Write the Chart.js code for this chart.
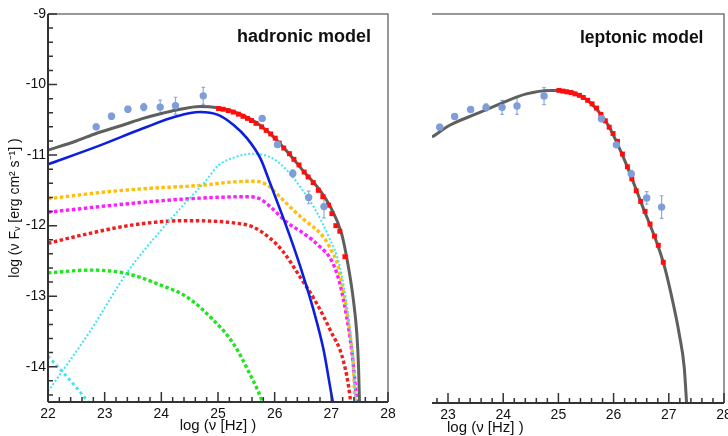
<!DOCTYPE html>
<html>
<head>
<meta charset="utf-8">
<script src="https://cdn.jsdelivr.net/npm/chart.js@4.4.1/dist/chart.umd.min.js"></script>
<style>
  html, body { margin: 0; padding: 0; background: #fff; width: 728px; height: 436px; overflow: hidden; }
  #hadronic { position: absolute; left: 0; top: 0; }
  #leptonic { position: absolute; left: 400px; top: 0; }
</style>
</head>
<body>
<canvas id="hadronic" width="400" height="436"></canvas>
<canvas id="leptonic" width="328" height="436"></canvas>
<script>
// observed fluxes (log nu [Hz], log nuFnu [erg cm^-2 s^-1]), same in both panels
const obsX   = [22.85, 23.12, 23.41, 23.69, 23.98, 24.25, 24.74, 25.78, 26.05, 26.32, 26.60, 26.87];
const obsY   = [-10.60, -10.45, -10.35, -10.32, -10.32, -10.30, -10.16, -10.48, -10.85, -11.26, -11.60, -11.73];
const obsErr = [0.04, 0.04, 0.04, 0.05, 0.10, 0.12, 0.12, 0.03, 0.03, 0.05, 0.09, 0.16];

// simulated spectrum, hadronic panel
const simHadX = [25.01, 25.09, 25.18, 25.27, 25.36, 25.44, 25.52, 25.59, 25.67, 25.77, 25.85, 25.93, 26.01, 26.08,
                 26.16, 26.26, 26.34, 26.43, 26.52, 26.59, 26.68, 26.77, 26.85, 26.95, 27.01, 27.08, 27.15, 27.24];
const simHadY = [-10.34, -10.35, -10.37, -10.39, -10.42, -10.45, -10.48, -10.51, -10.55, -10.60, -10.65, -10.70, -10.76, -10.83,
                 -10.90, -10.98, -11.06, -11.14, -11.24, -11.31, -11.39, -11.50, -11.59, -11.71, -11.83, -12.00, -12.08, -12.44];

// simulated spectrum, leptonic panel
const simLepX = [25.01, 25.08, 25.15, 25.23, 25.30, 25.38, 25.45, 25.53, 25.61, 25.69, 25.77, 25.85, 25.92,
                 25.99, 26.07, 26.16, 26.25, 26.33, 26.41, 26.49, 26.57, 26.66, 26.74, 26.81, 26.90];
const simLepY = [-10.08, -10.09, -10.10, -10.11, -10.13, -10.15, -10.18, -10.22, -10.27, -10.33, -10.42, -10.51, -10.60,
                 -10.69, -10.80, -10.98, -11.16, -11.33, -11.50, -11.65, -11.79, -11.97, -12.14, -12.27, -12.51];

// hadronic model components
const totHadX = [22.0, 22.5, 22.86, 23.3, 23.68, 24.0, 24.27, 24.68, 25.0, 25.3, 25.6, 25.9, 26.2, 26.5, 26.8, 27.0, 27.18, 27.3, 27.39, 27.45, 27.48, 27.5];
const totHadY = [-10.93, -10.80, -10.69, -10.58, -10.48, -10.41, -10.36, -10.31, -10.33, -10.39, -10.50, -10.68, -10.93, -11.22, -11.50, -11.76, -12.11, -12.58, -13.06, -13.53, -14.0, -14.6];
const synX = [22.0, 22.86, 23.68, 24.27, 24.68, 25.0, 25.27, 25.51, 25.75, 25.92, 26.1, 26.3, 26.5, 26.68, 26.86, 27.01, 27.05];
const synY = [-11.13, -10.88, -10.62, -10.45, -10.39, -10.43, -10.57, -10.76, -11.05, -11.40, -11.78, -12.22, -12.70, -13.18, -13.75, -14.43, -14.6];
const pionX = [22.0, 22.74, 23.4, 24.0, 24.4, 24.8, 25.0, 25.3, 25.62, 25.97, 26.21, 26.45, 26.7, 26.95, 27.15, 27.3, 27.39, 27.44];
const pionY = [-14.35, -13.50, -12.66, -12.06, -11.70, -11.35, -11.15, -11.03, -10.98, -11.05, -11.21, -11.45, -11.75, -12.15, -12.58, -13.29, -14.0, -14.6];
const pionLowX = [22.0, 22.33, 22.71, 22.8];
const pionLowY = [-13.85, -14.14, -14.50, -14.6];
const muonX = [22.0, 22.92, 23.8, 24.68, 25.27, 25.62, 25.86, 26.09, 26.33, 26.51, 26.86, 27.0, 27.12, 27.24, 27.33, 27.39, 27.42];
const muonY = [-11.62, -11.53, -11.47, -11.43, -11.38, -11.37, -11.42, -11.59, -11.78, -11.91, -12.16, -12.35, -12.58, -13.06, -13.53, -14.0, -14.6];
const cascX = [22.0, 22.92, 23.8, 24.68, 25.51, 25.74, 25.92, 26.21, 26.51, 26.8, 27.0, 27.15, 27.27, 27.36, 27.42, 27.46];
const cascY = [-11.81, -11.73, -11.66, -11.61, -11.59, -11.62, -11.73, -11.95, -12.11, -12.30, -12.49, -12.82, -13.29, -13.77, -14.24, -14.6];
const protX = [22.0, 22.62, 23.5, 24.38, 25.27, 25.62, 25.92, 26.15, 26.45, 26.74, 26.98, 27.21, 27.33, 27.35];
const protY = [-12.25, -12.13, -11.99, -11.93, -11.96, -12.02, -12.18, -12.37, -12.73, -13.10, -13.48, -13.91, -14.43, -14.6];
const pairX = [22.0, 22.74, 23.39, 23.98, 24.45, 24.92, 25.27, 25.56, 25.77, 25.82];
const pairY = [-12.67, -12.63, -12.68, -12.84, -13.01, -13.34, -13.67, -14.10, -14.47, -14.6];

// leptonic model
const totLepX = [22.71, 23.04, 23.52, 23.94, 24.42, 24.84, 25.01, 25.3, 25.6, 25.9, 26.2, 26.5, 26.9, 27.07, 27.19, 27.28, 27.33];
const totLepY = [-10.74, -10.57, -10.41, -10.27, -10.13, -10.08, -10.08, -10.12, -10.27, -10.57, -11.07, -11.67, -12.51, -13.06, -13.53, -14.0, -14.6];

const yTicksMin = -14.5, yTicksMax = -9;

Chart.defaults.font.family = '"Liberation Sans", Arial, Helvetica, sans-serif';
Chart.defaults.font.size = 14;
Chart.defaults.color = '#111';

const pts = (xs, ys) => xs.map((x, i) => ({x, y: ys[i]}));

function curve(xs, ys, color, width, dash) {
  return {
    data: pts(xs, ys), showLine: true, pointRadius: 0, borderColor: color, borderWidth: width,
    borderDash: dash || [], borderCapStyle: 'butt', cubicInterpolationMode: 'monotone', clip: 0
  };
}
const observed = () => ({
  data: pts(obsX, obsY), pointStyle: 'circle', pointRadius: 3.7, backgroundColor: '#7f9dd8', borderWidth: 0
});
const simulated = (xs, ys) => ({
  data: pts(xs, ys), pointStyle: 'rect', pointRadius: 3.5, backgroundColor: '#ff0d0d', borderWidth: 0
});

const panelDecor = {
  id: 'panelDecor',
  beforeDatasetsDraw(chart) {
    const {ctx, scales: {x, y}} = chart;
    ctx.save();
    ctx.strokeStyle = '#8fa9de';
    ctx.lineWidth = 1.2;
    ctx.beginPath();
    obsX.forEach((v, i) => {
      const px = x.getPixelForValue(v);
      const hi = y.getPixelForValue(obsY[i] + obsErr[i]);
      const lo = y.getPixelForValue(obsY[i] - obsErr[i]);
      ctx.moveTo(px, hi); ctx.lineTo(px, lo);
      ctx.moveTo(px - 1.8, hi); ctx.lineTo(px + 1.8, hi);
      ctx.moveTo(px - 1.8, lo); ctx.lineTo(px + 1.8, lo);
    });
    ctx.stroke();
    ctx.restore();
  },
  afterDraw(chart, args, o) {
    const {ctx, chartArea: a, scales: {x, y}} = chart;
    ctx.save();
    ctx.strokeStyle = '#777';
    ctx.lineWidth = 1.5;
    ctx.beginPath();
    ctx.moveTo(a.left, a.top); ctx.lineTo(a.right, a.top); ctx.lineTo(a.right, a.bottom);
    ctx.stroke();

    ctx.strokeStyle = '#333';
    ctx.lineWidth = 2;
    ctx.beginPath();
    ctx.moveTo(a.left, a.bottom); ctx.lineTo(a.right, a.bottom);
    if (o.leftAxis) { ctx.moveTo(a.left, a.bottom); ctx.lineTo(a.left, a.top); }
    ctx.stroke();

    // inward major + minor ticks every 0.2
    ctx.lineWidth = 1.5;
    ctx.beginPath();
    for (let k = Math.ceil(x.min * 5); k <= Math.floor(x.max * 5); k++) {
      const px = x.getPixelForValue(k / 5), len = k % 5 === 0 ? 10 : 5;
      ctx.moveTo(px, a.bottom); ctx.lineTo(px, a.bottom - len);
    }
    if (o.leftAxis) {
      for (let k = Math.ceil(y.min * 5); k <= Math.floor(y.max * 5); k++) {
        const py = y.getPixelForValue(k / 5), len = k % 5 === 0 ? 9 : 5;
        ctx.moveTo(a.left, py); ctx.lineTo(a.left + len, py);
      }
    }
    ctx.stroke();

    ctx.fillStyle = '#111';
    ctx.textBaseline = 'alphabetic';
    ctx.font = 'bold ' + o.labelSize + 'px "Liberation Sans", Arial, sans-serif';
    ctx.fillText(o.label, o.labelX, o.labelY);
    if (o.xTitle) {
      ctx.font = '15px "Liberation Sans", Arial, sans-serif';
      ctx.textBaseline = 'middle';
      ctx.fillText(o.xTitle, o.xTitleX, 428);
    }
    ctx.restore();
  }
};

function xScale(min, height, title) {
  return {
    type: 'linear', min, max: 28,
    grid: {display: false, drawTicks: false}, border: {display: false},
    ticks: {stepSize: 1, includeBounds: false, padding: 4, maxRotation: 0, autoSkip: false},
    title: {display: !!title, text: title, font: {size: 15}, padding: {top: 0, bottom: 1}},
    afterFit(s) { s.height = height; s.paddingLeft = 0; s.paddingRight = 0; }
  };
}

new Chart(document.getElementById('hadronic'), {
  type: 'scatter',
  data: {
    datasets: [
      observed(),
      simulated(simHadX, simHadY),
      curve(totHadX, totHadY, '#5d605d', 3),
      curve(synX, synY, '#0c1ee0', 2.6),
      curve(pionX, pionY, '#3fe6f0', 2, [2, 2]),
      curve(pionLowX, pionLowY, '#3fe6f0', 3, [3, 3]),
      curve(muonX, muonY, '#ffbe0a', 3.4, [3.5, 2.5]),
      curve(cascX, cascY, '#ff1eff', 3.4, [3.5, 2.5]),
      curve(protX, protY, '#f01e1e', 3.4, [3.5, 2.5]),
      curve(pairX, pairY, '#1ee61e', 3.4, [3.5, 2.5])
    ]
  },
  options: {
    responsive: false, animation: false, events: [],
    layout: {padding: {top: 14, right: 12, left: 0, bottom: 0}},
    plugins: {
      legend: {display: false}, tooltip: {enabled: false},
      panelDecor: {leftAxis: true, label: 'hadronic model', labelSize: 18, labelX: 237, labelY: 42}
    },
    scales: {
      x: xScale(22, 34, 'log (ν [Hz] )'),
      y: {
        type: 'linear', min: yTicksMin, max: yTicksMax,
        grid: {display: false, drawTicks: false}, border: {display: false},
        ticks: {stepSize: 1, includeBounds: false, padding: 2},
        title: {display: true, text: 'log (ν Fᵥ [erg cm² s⁻¹] )', font: {size: 14}, padding: {top: 7}},
        afterFit(s) { s.width = 48; s.paddingTop = 0; s.paddingBottom = 0; }
      }
    }
  },
  plugins: [panelDecor]
});

new Chart(document.getElementById('leptonic'), {
  type: 'scatter',
  data: {
    datasets: [
      observed(),
      simulated(simLepX, simLepY),
      curve(totLepX, totLepY, '#5d605d', 3)
    ]
  },
  options: {
    responsive: false, animation: false, events: [],
    layout: {padding: {top: 14, right: 3, left: 32, bottom: 0}},
    plugins: {
      legend: {display: false}, tooltip: {enabled: false},
      panelDecor: {leftAxis: false, label: 'leptonic model', labelSize: 17.5, labelX: 180, labelY: 43, xTitle: 'log (ν [Hz] )', xTitleX: 47}
    },
    scales: {
      x: xScale(22.71, 33, ''),
      y: {type: 'linear', display: false, min: yTicksMin, max: yTicksMax}
    }
  },
  plugins: [panelDecor]
});
</script>
</body>
</html>
